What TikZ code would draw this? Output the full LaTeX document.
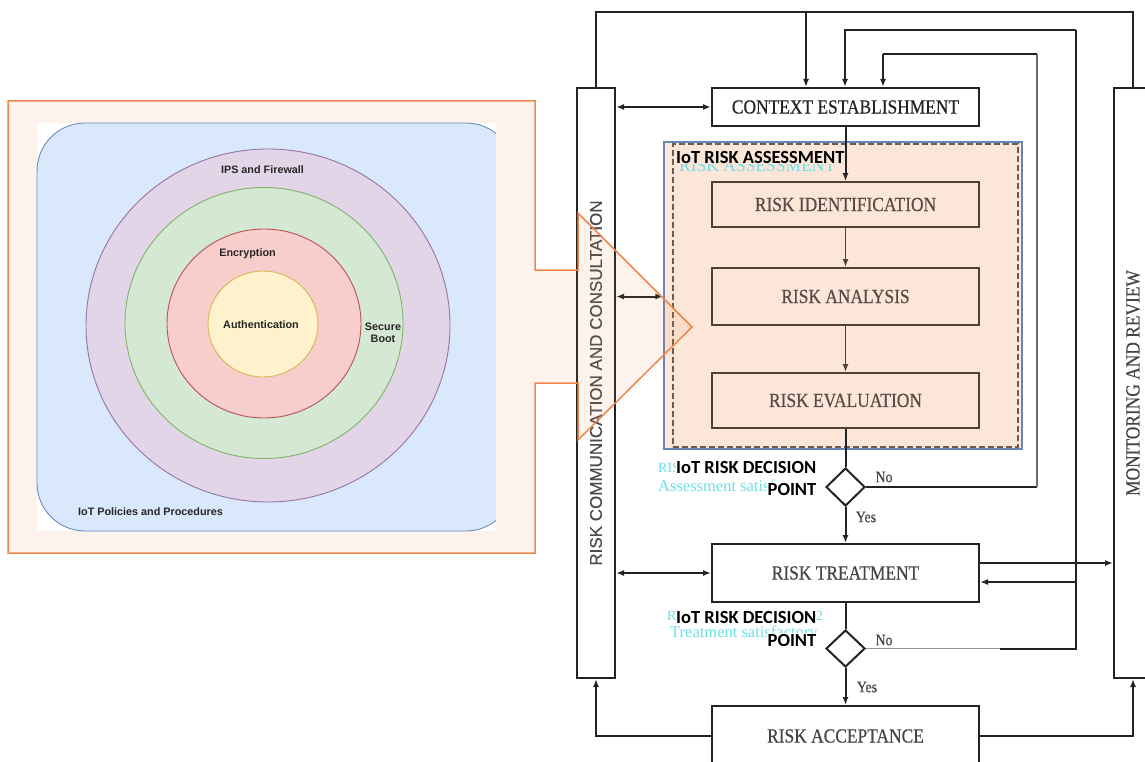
\documentclass[tikz,border=0pt]{standalone}
\usepackage{fontspec}
\setmainfont{Liberation Serif}
\newfontfamily\serifc[FakeStretch=0.87,FakeBold=0.4]{Liberation Serif}
\newfontfamily\sansf{Liberation Sans}
\newfontfamily\sansr[FakeBold=0.3]{Liberation Sans}
\newfontfamily\carl{Carlito}
\usetikzlibrary{arrows.meta,shapes.geometric}
\definecolor{linec}{RGB}{35,35,35}
\definecolor{brownline}{RGB}{80,64,55}
\definecolor{browntext}{RGB}{88,74,68}
\definecolor{peach}{RGB}{251,230,216}
\definecolor{bluebox}{RGB}{100,135,185}
\definecolor{orng}{RGB}{237,135,75}
\definecolor{cyantxt}{RGB}{105,226,232}
\definecolor{grayline}{RGB}{110,110,110}
\definecolor{lgrayline}{RGB}{150,150,150}
\definecolor{dbfill}{RGB}{218,232,252}
\definecolor{dbstroke}{RGB}{108,142,191}
\definecolor{pufill}{RGB}{225,213,231}
\definecolor{pustroke}{RGB}{150,115,166}
\definecolor{grfill}{RGB}{213,232,212}
\definecolor{grstroke}{RGB}{130,179,102}
\definecolor{rdfill}{RGB}{248,206,204}
\definecolor{rdstroke}{RGB}{184,84,80}
\definecolor{ylfill}{RGB}{255,242,204}
\definecolor{ylstroke}{RGB}{214,182,86}
\begin{document}
\begin{tikzpicture}[x=1pt,y=-1pt,
  ln/.style={draw=linec, line width=2pt},
  arr/.style={ln, -{Latex[length=8pt,width=6pt]}},
  darr/.style={ln, {Latex[length=8pt,width=6pt]}-{Latex[length=8pt,width=6pt]}},
  bline/.style={draw=brownline, line width=1.8pt},
  barr/.style={bline, -{Latex[length=8pt,width=6pt]}},
  box/.style={draw=linec, line width=2pt, fill=white, inner sep=0pt,
    font=\serifc\fontsize{20}{22}\selectfont, text=linec!85},
  ibox/.style={draw=brownline, line width=1.8pt, fill=peach, inner sep=0pt,
    font=\serifc\fontsize{20}{22}\selectfont, text=browntext},
  dia/.style={diamond, draw=linec, line width=2pt, fill=white, inner sep=0pt,
    minimum width=39pt, minimum height=38pt},
  lbl/.style={font=\serifc\fontsize{16}{18}\selectfont, text=linec!85, inner sep=0pt},
  cyanA/.style={font=\fontsize{14}{16}\selectfont, text=cyantxt, inner sep=0pt, anchor=west},
  cyanB/.style={font=\fontsize{16.5}{18}\selectfont, text=cyantxt, inner sep=0pt, anchor=west},
  blk/.style={font=\carl\bfseries\fontsize{18.5}{20}\selectfont, text=black, inner sep=0.5pt},
  ring/.style={line width=0.9pt},
  small/.style={font=\sansf\bfseries\fontsize{10.8}{12.5}\selectfont, text=black!85, inner sep=0pt, align=center}
]
\useasboundingbox (0,0) rectangle (1145,762);
\fill[white] (0,0) rectangle (1145,762);

% ---------------- flowchart ----------------
% risk assessment frame
\node[draw=bluebox, line width=1.2pt, fill=peach, minimum width=358pt, minimum height=307pt, inner sep=0pt] (ra) at (843,295.5) {};
\node[draw=brownline!85, line width=1.3pt, dash pattern=on 6pt off 3pt, minimum width=345pt, minimum height=303pt, inner sep=0pt] (rad) at (845.5,295.5) {};

% boxes
\node[box, minimum width=38pt, minimum height=590pt] (rcc) at (596,383) {};
\node[font=\sansr\fontsize{17}{18}\selectfont, text=black!70, rotate=90, inner sep=0pt] (rcctext) at (rcc.center) {RISK COMMUNICATION AND CONSULTATION};
\node[box, minimum width=38pt, minimum height=590pt] (mr) at (1133,383) {};
\node[font=\serifc\fontsize{20}{22}\selectfont, text=linec!85, rotate=90, inner sep=0pt] (mrtext) at (mr.center) {MONITORING AND REVIEW};

\node[box, minimum width=267pt, minimum height=38pt, text=linec] (ce) at (845.5,107) {CONTEXT ESTABLISHMENT};
\node[ibox, minimum width=267pt, minimum height=45pt] (ri) at (845.5,204.5) {RISK IDENTIFICATION};
\node[ibox, minimum width=267pt, minimum height=57pt] (an) at (845.5,296.5) {RISK ANALYSIS};
\node[ibox, minimum width=267pt, minimum height=55pt] (ev) at (845.5,400.5) {RISK EVALUATION};
\node[dia] (d1) at (845.5,487) {};
\node[box, minimum width=267pt, minimum height=58pt] (rt) at (845.5,573) {RISK TREATMENT};
\node[dia, minimum height=37pt] (d2) at (845.5,648.5) {};
\node[box, minimum width=267pt, minimum height=60pt] (ac) at (845.5,736) {RISK ACCEPTANCE};

% assessment title (cyan original under black)
\node[font=\fontsize{17.5}{20}\selectfont, text=cyantxt, inner sep=0pt, anchor=west] (racyan) at (679,166) {RISK ASSESSMENT};
\node[blk, fill=peach, inner sep=0pt, anchor=west] (ratitle) at (676,157.5) {IoT RISK ASSESSMENT};

% decision labels
\node[cyanA] (c1a) at (658,468) {RISK DECISION POINT 1};
\node[cyanB] (c1b) at (658,487) {Assessment satisfactory};
\node[blk, fill=white, anchor=east] (k1a) at (817,467) {IoT RISK DECISION};
\node[blk, fill=white, anchor=east] (k1b) at (817,489) {POINT};
\node[cyanA] (c2a) at (667,615.5) {RISK DECISION POINT 2};
\node[cyanB] (c2b) at (670,633) {Treatment satisfactory};
\node[blk, fill=white, anchor=east] (k2a) at (817,617) {IoT RISK DECISION};
\node[blk, fill=white, anchor=east] (k2b) at (817,640) {POINT};

\node[lbl] (no1) at (884,477) {No};
\node[lbl] (yes1) at (866,517) {Yes};
\node[lbl] (no2) at (884,640) {No};
\node[lbl] (yes2) at (867,687) {Yes};

% coordinates for loops
\coordinate (t1) at (596,12);
\coordinate (t2) at (1133,12);
\coordinate (t3) at (806,12);
\coordinate (l2a) at (845,30);
\coordinate (l2b) at (1076,30);
\coordinate (l3a) at (883,54);
\coordinate (l3b) at (1037,54);
\coordinate (g1) at (1037,487);
\coordinate (g2) at (1000,648.5);
\coordinate (b2) at (1076,582);
\coordinate (rtout) at (979,563);

% top loop
\draw[ln] (rcc.north) -- (t1) -- (t2) -- (mr.north);
\draw[arr] (t3) -- (ce.north -| t3);
% second loop (treatment decision)
\draw[draw=lgrayline, line width=1.6pt] (d2.east) -- (g2);
\draw[ln] (g2) -| (l2b);
\draw[arr] (l2b) -| (ce.north -| l2a);
\draw[arr] (b2) -- (b2 -| rt.east);
% third loop (assessment decision)
\draw[ln] (d1.east) -- (g1);
\draw[draw=grayline, line width=1.4pt] (g1) -- (l3b);
\draw[ln] (l3b) -- (l3a);
\draw[arr] (l3a) -- (ce.north -| l3a);

% main chain
\draw[arr] (ce.south) -- (ri.north);
\draw[barr] (ri.south) -- (an.north);
\draw[barr] (an.south) -- (ev.north);
\draw[ln] (ev.south) -- (d1.north);
\draw[arr] (d1.south) -- (rt.north);
\draw[ln] (rt.south) -- (d2.north);
\draw[arr] (d2.south) -- (ac.north);

% side arrows
\draw[darr] (rcc.east |- ce.west) -- (ce.west);
\draw[darr] (rcc.east |- an.west) -- (ra.west |- an.west);
\draw[darr] (rcc.east |- rt.west) -- (rt.west);
\draw[arr] (rtout) -- (rtout -| mr.west);
\draw[arr] (ac.west) -| (rcc.south);
\draw[arr] (ac.east) -| (mr.south);

% ---------------- callout ----------------
\path[draw=orng, line width=1.5pt, fill=orng, fill opacity=0.1, line join=miter]
  (8,101) -- (535,101) -- (535,270) -- (578,270) -- (578,213) -- (692,327)
  -- (578,440) -- (578,383) -- (535,383) -- (535,553) -- (8,553) -- cycle;

% ---------------- left image ----------------
\fill[white] (37,123) rectangle (496,531);
\begin{scope}
  \clip (30,115) rectangle (496,540);
  \draw[draw=dbstroke, fill=dbfill, line width=0.9pt, rounded corners=48pt] (37,123) rectangle (514,531);
\end{scope}
\draw[ring, draw=pustroke, fill=pufill] (268,325.5) ellipse [x radius=182, y radius=176.5];
\draw[ring, draw=grstroke, fill=grfill] (264,323) ellipse [x radius=139, y radius=135.5];
\draw[ring, draw=rdstroke, fill=rdfill] (264,323.5) ellipse [x radius=97, y radius=94.5];
\draw[ring, draw=ylstroke, fill=ylfill] (263,324) ellipse [x radius=55, y radius=53];

\node[small] (ips) at (262.5,170) {IPS and Firewall};
\node[small] (enc) at (247.5,254) {Encryption};
\node[small] (auth) at (261,325) {Authentication};
\node[small] (sb) at (383,333) {Secure\\Boot};
\node[small, anchor=west] (pol) at (78,512) {IoT Policies and Procedures};
\end{tikzpicture}
\end{document}
